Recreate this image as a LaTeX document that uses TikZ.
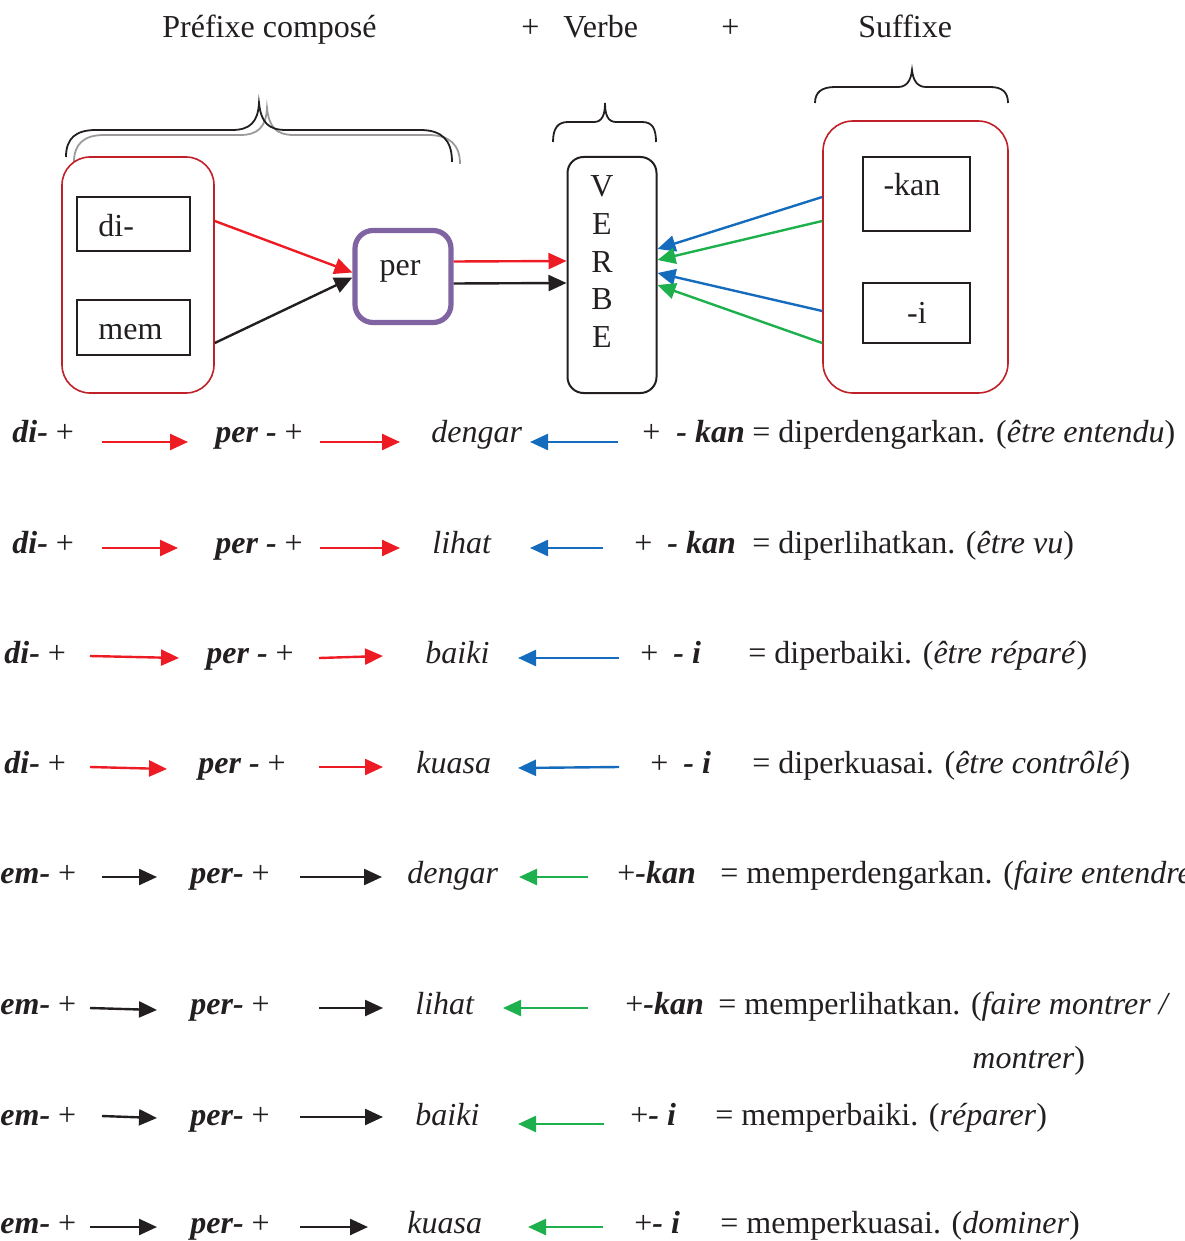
\documentclass[tikz,border=0pt]{standalone}
\usepackage{fontspec}
\setmainfont{Liberation Serif}
\usepackage{tikz}
\usetikzlibrary{arrows.meta, calc}
\definecolor{boxred}{RGB}{192, 32, 40}
\definecolor{perpurple}{RGB}{128, 100, 162}
\definecolor{arrred}{RGB}{237, 28, 36}
\definecolor{arrblue}{RGB}{22, 108, 188}
\definecolor{arrgreen}{RGB}{30, 176, 76}
\definecolor{inkblack}{RGB}{35, 31, 32}
\definecolor{bracegray}{RGB}{155, 155, 155}
\tikzset{
    txt/.style={anchor=base west, inner sep=0pt, text=inkblack, font=\fontsize{16pt}{19pt}\selectfont},
    ctxt/.style={txt, anchor=base},
    groupbox/.style={draw=boxred, line width=0.8pt, rectangle, rounded corners=14pt, inner sep=0pt},
    morphbox/.style={draw=inkblack, line width=1pt, rectangle, inner sep=0pt},
    perbox/.style={draw=perpurple, line width=2.6pt, rectangle, rounded corners=9pt, inner sep=0pt},
    verbbox/.style={draw=inkblack, line width=1pt, rectangle, rounded corners=8pt, inner sep=0pt},
    bracestroke/.style={draw=inkblack, line width=0.9pt},
    arr/.style={-{Triangle[length=9pt, width=8pt]}, line width=1.2pt},
    redarrow/.style={arr, draw=arrred},
    bluearrow/.style={arr, draw=arrblue},
    greenarrow/.style={arr, draw=arrgreen},
    blackarrow/.style={arr, draw=inkblack},
}
\begin{document}
\begin{tikzpicture}[x=0.5pt, y=-0.5pt]
    \useasboundingbox (0,0) rectangle (1184,1241);

    % Header
    \node[txt] (hpre) at (162,38) {Préfixe composé};
    \node[txt] (hplus1) at (521,38) {+};
    \node[txt] (hverb) at (563,38) {Verbe};
    \node[txt] (hplus2) at (721,38) {+};
    \node[txt] (hsuf) at (858,38) {Suffixe};

    % Braces
    \draw[bracestroke, draw=bracegray] (74,162) .. controls (74,144) and (84,135) .. (104,135) -- (240,135) .. controls (258,135) and (266,127) .. (267,108) .. controls (269,127) and (276,135) .. (294,135) -- (428,135) .. controls (450,135) and (460,145) .. (460,164);
    \draw[bracestroke] (66,157) .. controls (66,138) and (76,130) .. (96,130) -- (232,130) .. controls (250,130) and (258,122) .. (259,103) .. controls (261,122) and (268,130) .. (286,130) -- (420,130) .. controls (442,130) and (452,140) .. (452,162);
    \draw[bracestroke] (553,142) .. controls (553,128) and (558,122) .. (568,122) -- (594,122) .. controls (602,122) and (605,115) .. (605,103) .. controls (605,115) and (608,122) .. (616,122) -- (642,122) .. controls (652,122) and (656,128) .. (656,142);
    \draw[bracestroke] (815,103) .. controls (815,92) and (822,87) .. (835,87) -- (898,87) .. controls (907,87) and (911,80) .. (912,70) .. controls (913,80) and (917,87) .. (926,87) -- (990,87) .. controls (1002,87) and (1008,92) .. (1008,103);

    % Prefixes
    \node[groupbox, minimum width=76pt, minimum height=118pt] (pre) at (138,275) {};
    \node[morphbox, minimum width=56.5pt, minimum height=27pt] (di) at (133.5,224) {};
    \node[morphbox, minimum width=56.5pt, minimum height=27.5pt] (mem) at (133.5,327.5) {};
    \node[txt] (ditxt) at (98,236) {di-};
    \node[txt] (memtxt) at (98,339) {mem};
    \node[perbox, minimum width=48pt, minimum height=46pt] (per) at (403,276.5) {};
    \node[ctxt] (pertxt) at (400,275) {per};

    % Verb
    \node[verbbox, minimum width=44.5pt, minimum height=118pt] (verb) at (612,275) {};
    \foreach \l [count=\i] in {V,E,R,B,E}
        \node[ctxt] (v\i) at (602,159.5+37.5*\i) {\l};

    % Suffixes
    \node[groupbox, rounded corners=15pt, minimum width=92.5pt, minimum height=136pt] (suf) at (915.5,257) {};
    \node[morphbox, minimum width=53.5pt, minimum height=37pt] (kan) at (916.5,194) {};
    \node[morphbox, minimum width=53.5pt, minimum height=30pt] (ii) at (916.5,313) {};
    \node[ctxt] (kantxt) at (912,196) {-kan};
    \node[ctxt] (iitxt) at (917,323) {-i};

    % Arrows
    \draw[redarrow] ([yshift=27pt]pre.east) -- ([yshift=2pt]per.west);
    \draw[blackarrow] ([yshift=-34pt]pre.east) -- ([yshift=-0.5pt]per.west);
    \draw[redarrow] ([yshift=7.5pt]per.east) -- ([yshift=7pt]verb.west);
    \draw[blackarrow] ([yshift=-3.5pt]per.east) -- ([yshift=-4pt]verb.west);
    \draw[bluearrow] ([yshift=30pt]suf.west) -- ([yshift=13pt]verb.east);
    \draw[greenarrow] ([yshift=18pt]suf.west) -- ([yshift=7.5pt]verb.east);
    \draw[bluearrow] ([yshift=-27pt]suf.west) -- ([yshift=1pt]verb.east);
    \draw[greenarrow] ([yshift=-43pt]suf.west) -- ([yshift=-5pt]verb.east);

    % Row 1
    \node[txt] (pf1) at (12,442) {\textbf{\textit{di-}} +};
    \node[txt] (pr1) at (215,442) {\textbf{\textit{per -}} +};
    \node[txt] (vb1) at (431,442) {\textit{dengar}};
    \node[txt] (pl1) at (642,442) {+};
    \node[txt] (sf1) at (676,442) {\textbf{\textit{- kan}}};
    \node[txt] (rs1) at (752,442) {= diperdengarkan. (\textit{être entendu})};
    \coordinate (a1) at (102,442); \coordinate (b1) at (188,442);
    \coordinate (c1) at (320,442); \coordinate (d1) at (400,442);
    \coordinate (e1) at (618,442); \coordinate (f1) at (530,442);
    \draw[redarrow] (a1) -- (b1);
    \draw[redarrow] (c1) -- (d1);
    \draw[bluearrow] (e1) -- (f1);

    % Row 2
    \node[txt] (pf2) at (12,553) {\textbf{\textit{di-}} +};
    \node[txt] (pr2) at (215,553) {\textbf{\textit{per -}} +};
    \node[txt] (vb2) at (432,553) {\textit{lihat}};
    \node[txt] (pl2) at (634,553) {+};
    \node[txt] (sf2) at (667,553) {\textbf{\textit{- kan}}};
    \node[txt] (rs2) at (752,553) {= diperlihatkan. (\textit{être vu})};
    \coordinate (a2) at (102,548); \coordinate (b2) at (178,548);
    \coordinate (c2) at (320,548); \coordinate (d2) at (400,548);
    \coordinate (e2) at (603,548); \coordinate (f2) at (530,548);
    \draw[redarrow] (a2) -- (b2);
    \draw[redarrow] (c2) -- (d2);
    \draw[bluearrow] (e2) -- (f2);

    % Row 3
    \node[txt] (pf3) at (4,663) {\textbf{\textit{di-}} +};
    \node[txt] (pr3) at (206,663) {\textbf{\textit{per -}} +};
    \node[txt] (vb3) at (425,663) {\textit{baiki}};
    \node[txt] (pl3) at (640,663) {+};
    \node[txt] (sf3) at (673,663) {\textbf{\textit{- i}}};
    \node[txt] (rs3) at (748,663) {= diperbaiki. (\textit{être réparé})};
    \coordinate (a3) at (90,656); \coordinate (b3) at (179,658);
    \coordinate (c3) at (319,658); \coordinate (d3) at (383,656);
    \coordinate (e3) at (619,658); \coordinate (f3) at (518,658);
    \draw[redarrow] (a3) -- (b3);
    \draw[redarrow] (c3) -- (d3);
    \draw[bluearrow] (e3) -- (f3);

    % Row 4
    \node[txt] (pf4) at (4,773) {\textbf{\textit{di-}} +};
    \node[txt] (pr4) at (198,773) {\textbf{\textit{per -}} +};
    \node[txt] (vb4) at (416,773) {\textit{kuasa}};
    \node[txt] (pl4) at (650,773) {+};
    \node[txt] (sf4) at (683,773) {\textbf{\textit{- i}}};
    \node[txt] (rs4) at (752,773) {= diperkuasai. (\textit{être contrôlé})};
    \coordinate (a4) at (90,767); \coordinate (b4) at (167,769);
    \coordinate (c4) at (319,767); \coordinate (d4) at (383,767);
    \coordinate (e4) at (619,767); \coordinate (f4) at (518,768);
    \draw[redarrow] (a4) -- (b4);
    \draw[redarrow] (c4) -- (d4);
    \draw[bluearrow] (e4) -- (f4);

    % Row 5
    \node[txt] (pf5) at (0,883) {\textbf{\textit{em-}} +};
    \node[txt] (pr5) at (190,883) {\textbf{\textit{per-}} +};
    \node[txt] (vb5) at (407,883) {\textit{dengar}};
    \node[txt] (sf5) at (617,883) {+\textbf{\textit{-kan}}};
    \node[txt] (rs5) at (720,883) {= memperdengarkan. (\textit{faire entendre}};
    \coordinate (a5) at (102,877); \coordinate (b5) at (157,877);
    \coordinate (c5) at (300,877); \coordinate (d5) at (382,877);
    \coordinate (e5) at (588,877); \coordinate (f5) at (519,877);
    \draw[blackarrow] (a5) -- (b5);
    \draw[blackarrow] (c5) -- (d5);
    \draw[greenarrow] (e5) -- (f5);

    % Row 6
    \node[txt] (pf6) at (0,1014) {\textbf{\textit{em-}} +};
    \node[txt] (pr6) at (190,1014) {\textbf{\textit{per-}} +};
    \node[txt] (vb6) at (415,1014) {\textit{lihat}};
    \node[txt] (sf6) at (625,1014) {+\textbf{\textit{-kan}}};
    \node[txt] (rs6) at (718,1014) {= memperlihatkan. (\textit{faire montrer /}};
    \node[txt] (rs6b) at (972,1068) {\textit{montrer})};
    \coordinate (a6) at (90,1008); \coordinate (b6) at (157,1010);
    \coordinate (c6) at (319,1008); \coordinate (d6) at (383,1008);
    \coordinate (e6) at (588,1008); \coordinate (f6) at (503,1008);
    \draw[blackarrow] (a6) -- (b6);
    \draw[blackarrow] (c6) -- (d6);
    \draw[greenarrow] (e6) -- (f6);

    % Row 7
    \node[txt] (pf7) at (0,1125) {\textbf{\textit{em-}} +};
    \node[txt] (pr7) at (190,1125) {\textbf{\textit{per-}} +};
    \node[txt] (vb7) at (415,1125) {\textit{baiki}};
    \node[txt] (sf7) at (630,1125) {+\textbf{\textit{- i}}};
    \node[txt] (rs7) at (715,1125) {= memperbaiki. (\textit{réparer})};
    \coordinate (a7) at (102,1116); \coordinate (b7) at (157,1118);
    \coordinate (c7) at (300,1117); \coordinate (d7) at (383,1117);
    \coordinate (e7) at (604,1124); \coordinate (f7) at (518,1124);
    \draw[blackarrow] (a7) -- (b7);
    \draw[blackarrow] (c7) -- (d7);
    \draw[greenarrow] (e7) -- (f7);

    % Row 8
    \node[txt] (pf8) at (0,1233) {\textbf{\textit{em-}} +};
    \node[txt] (pr8) at (190,1233) {\textbf{\textit{per-}} +};
    \node[txt] (vb8) at (407,1233) {\textit{kuasa}};
    \node[txt] (sf8) at (634,1233) {+\textbf{\textit{- i}}};
    \node[txt] (rs8) at (720,1233) {= memperkuasai. (\textit{dominer})};
    \coordinate (a8) at (90,1227); \coordinate (b8) at (157,1227);
    \coordinate (c8) at (300,1227); \coordinate (d8) at (368,1227);
    \coordinate (e8) at (603,1227); \coordinate (f8) at (528,1227);
    \draw[blackarrow] (a8) -- (b8);
    \draw[blackarrow] (c8) -- (d8);
    \draw[greenarrow] (e8) -- (f8);
\end{tikzpicture}
\end{document}
